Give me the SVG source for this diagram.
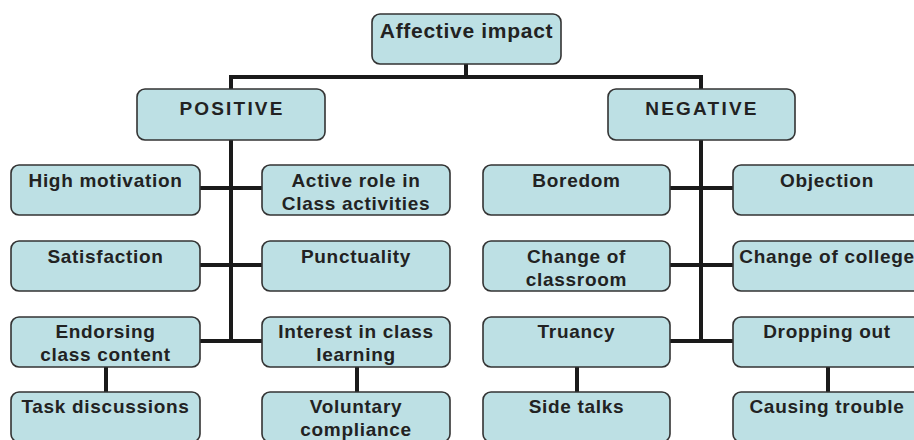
<svg xmlns="http://www.w3.org/2000/svg" width="914" height="440" viewBox="0 0 914 440">
<style>
.box{fill:#bde0e4;stroke:#333;stroke-width:1.6}
.t{font-family:"Liberation Sans",Arial,sans-serif;font-weight:bold;font-size:19px;letter-spacing:0.7px;fill:#222;text-anchor:middle}
.h{font-size:19px;letter-spacing:2.2px}
.top{font-size:21px;letter-spacing:0.7px}
#connectors path{fill:none;stroke:#1a1a1a;stroke-width:4}
</style>
<rect width="914" height="440" fill="#fff"/>
<g id="connectors">
<path d="M466,64V77M231,77H701M231,75V89M701,75V89"/>
<path d="M231,140V343M200,188H262M200,265H262M200,341H262"/>
<path d="M701,140V343M670,188H733M670,265H733M670,341H733"/>
<path d="M106,367V392M357,367V392M577,367V392M828,367V392"/>
</g>
<g id="n-affective"><rect class="box" x="372" y="14" width="189" height="50" rx="8"/><text class="t top" x="466.5" y="38">Affective impact</text></g>
<g id="n-positive"><rect class="box" x="137" y="89" width="188" height="51" rx="8"/><text class="t h" x="232" y="115">POSITIVE</text></g>
<g id="n-negative"><rect class="box" x="608" y="89" width="187" height="51" rx="8"/><text class="t h" x="702" y="115">NEGATIVE</text></g>

<g id="n-high"><rect class="box" x="11" y="165" width="189" height="50" rx="8"/><text class="t" x="105.5" y="187">High motivation</text></g>
<g id="n-active"><rect class="box" x="262" y="165" width="188" height="50" rx="8"/><text class="t" x="356" y="187">Active role in</text><text class="t" x="356" y="210">Class activities</text></g>
<g id="n-satisfaction"><rect class="box" x="11" y="241" width="189" height="50" rx="8"/><text class="t" x="105.5" y="263">Satisfaction</text></g>
<g id="n-punctuality"><rect class="box" x="262" y="241" width="188" height="50" rx="8"/><text class="t" x="356" y="263">Punctuality</text></g>
<g id="n-endorsing"><rect class="box" x="11" y="317" width="189" height="50" rx="8"/><text class="t" x="105.5" y="338">Endorsing</text><text class="t" x="105.5" y="361">class content</text></g>
<g id="n-interest"><rect class="box" x="262" y="317" width="188" height="50" rx="8"/><text class="t" x="356" y="338">Interest in class</text><text class="t" x="356" y="361">learning</text></g>
<g id="n-task"><rect class="box" x="11" y="392" width="189" height="50" rx="8"/><text class="t" x="105.5" y="413">Task discussions</text></g>
<g id="n-voluntary"><rect class="box" x="262" y="392" width="188" height="50" rx="8"/><text class="t" x="356" y="413">Voluntary</text><text class="t" x="356" y="436">compliance</text></g>

<g id="n-boredom"><rect class="box" x="483" y="165" width="187" height="50" rx="8"/><text class="t" x="576.5" y="187">Boredom</text></g>
<g id="n-objection"><rect class="box" x="733" y="165" width="188" height="50" rx="8"/><text class="t" x="827" y="187">Objection</text></g>
<g id="n-changeclass"><rect class="box" x="483" y="241" width="187" height="50" rx="8"/><text class="t" x="576.5" y="263">Change of</text><text class="t" x="576.5" y="286">classroom</text></g>
<g id="n-changecollege"><rect class="box" x="733" y="241" width="188" height="50" rx="8"/><text class="t" x="827" y="263">Change of college</text></g>
<g id="n-truancy"><rect class="box" x="483" y="317" width="187" height="50" rx="8"/><text class="t" x="576.5" y="338">Truancy</text></g>
<g id="n-dropping"><rect class="box" x="733" y="317" width="188" height="50" rx="8"/><text class="t" x="827" y="338">Dropping out</text></g>
<g id="n-side"><rect class="box" x="483" y="392" width="187" height="50" rx="8"/><text class="t" x="576.5" y="413">Side talks</text></g>
<g id="n-causing"><rect class="box" x="733" y="392" width="188" height="50" rx="8"/><text class="t" x="827" y="413">Causing trouble</text></g>
</svg>
